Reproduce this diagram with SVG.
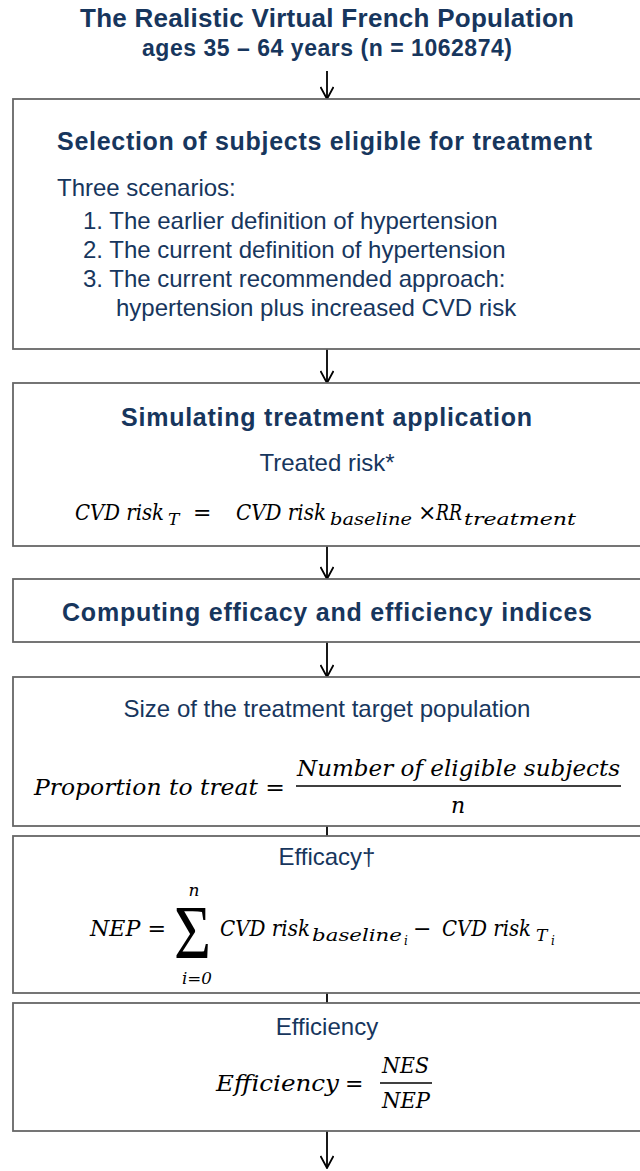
<svg xmlns="http://www.w3.org/2000/svg" width="640" height="1171" viewBox="0 0 640 1171">
<defs>
<style>
.box{fill:#fff;stroke:#666;stroke-width:1.8}
.h{font-family:"Liberation Sans",Arial,sans-serif;font-weight:bold;fill:#17365d}
.t{font-family:"Liberation Sans",Arial,sans-serif;fill:#17365d;font-size:24px}
.m{font-family:"DejaVu Serif","Liberation Serif",serif;font-style:italic;fill:#000;font-size:22px}
.s{font-size:17px}
.ss{font-size:12px}
.c{stroke:#000;stroke-width:1.8;fill:none}
</style>
<marker id="ah" viewBox="0 0 14 14" refX="13" refY="7" markerWidth="14" markerHeight="14" markerUnits="userSpaceOnUse" orient="auto">
<path d="M1,0.5 L13,7 L1,13.5" fill="none" stroke="#000" stroke-width="1.8"/>
</marker>
</defs>
<rect width="640" height="1171" fill="#fff"/>

<g id="title">
<text class="h" x="80" y="27" font-size="26" textLength="494">The Realistic Virtual French Population</text>
<text class="h" x="142" y="56" font-size="23" textLength="370">ages 35 – 64 years (n = 1062874)</text>
</g>

<g id="connectors">
<line class="c" x1="327" y1="71" x2="327" y2="99" marker-end="url(#ah)"/>
<line class="c" x1="327" y1="349" x2="327" y2="383" marker-end="url(#ah)"/>
<line class="c" x1="327" y1="546" x2="327" y2="579" marker-end="url(#ah)"/>
<line class="c" x1="327" y1="642" x2="327" y2="677" marker-end="url(#ah)"/>
<line class="c" x1="327" y1="826" x2="327" y2="836"/>
<line class="c" x1="327" y1="993" x2="327" y2="1003"/>
<line class="c" x1="327" y1="1131" x2="327" y2="1168" marker-end="url(#ah)"/>
</g>

<g id="selection">
<rect class="box" x="13" y="99" width="640" height="250"/>
<text class="h" x="57" y="150" font-size="25" textLength="535">Selection of subjects eligible for treatment</text>
<text class="t" x="57" y="196">Three scenarios:</text>
<text class="t" x="83" y="229">1. The earlier definition of hypertension</text>
<text class="t" x="83" y="258">2. The current definition of hypertension</text>
<text class="t" x="83" y="287">3. The current recommended approach:</text>
<text class="t" x="116" y="316">hypertension plus increased CVD risk</text>
</g>

<g id="simulating">
<rect class="box" x="13" y="383" width="640" height="163"/>
<text class="h" x="121" y="426" font-size="25" textLength="411">Simulating treatment application</text>
<text class="t" x="327" y="471" text-anchor="middle">Treated risk*</text>
<text class="m" y="520"><tspan x="75" textLength="89" lengthAdjust="spacingAndGlyphs">CVD risk</tspan><tspan class="s" x="168" dy="5">T</tspan><tspan x="193" dy="-5">=</tspan><tspan x="236" textLength="90" lengthAdjust="spacingAndGlyphs">CVD risk</tspan><tspan class="s" x="330" dy="5" textLength="82" lengthAdjust="spacingAndGlyphs">baseline</tspan><tspan x="418" dy="-5" font-style="normal">×</tspan><tspan x="436" textLength="26" lengthAdjust="spacingAndGlyphs">RR</tspan><tspan class="s" x="464" dy="5" textLength="112" lengthAdjust="spacingAndGlyphs">treatment</tspan></text>
</g>

<g id="computing">
<rect class="box" x="13" y="579" width="640" height="63"/>
<text class="h" x="62" y="621" font-size="25" textLength="530">Computing efficacy and efficiency indices</text>
</g>

<g id="size">
<rect class="box" x="13" y="677" width="640" height="149"/>
<text class="t" x="327" y="717" text-anchor="middle">Size of the treatment target population</text>
<text class="m" x="34" y="795" textLength="251" lengthAdjust="spacingAndGlyphs">Proportion to treat =</text>
<text class="m" x="297" y="776" textLength="323" lengthAdjust="spacingAndGlyphs">Number of eligible subjects</text>
<line x1="296" y1="786" x2="621" y2="786" stroke="#000" stroke-width="1.5"/>
<text class="m" x="458" y="813" text-anchor="middle">n</text>
</g>

<g id="efficacy">
<rect class="box" x="13" y="836" width="640" height="157"/>
<text class="t" x="327" y="865" text-anchor="middle">Efficacy†</text>
<text class="m" x="90" y="936" textLength="76" lengthAdjust="spacingAndGlyphs">NEP =</text>
<text x="174" y="958" font-family="Liberation Serif, serif" font-size="76" textLength="37" lengthAdjust="spacingAndGlyphs">Σ</text>
<text class="m s" x="194" y="896" text-anchor="middle">n</text>
<text class="m s" x="182" y="984" textLength="30" lengthAdjust="spacingAndGlyphs">i=0</text>
<text class="m" y="936"><tspan x="220" textLength="90" lengthAdjust="spacingAndGlyphs">CVD risk</tspan><tspan class="s" x="312" dy="5" textLength="90" lengthAdjust="spacingAndGlyphs">baseline</tspan><tspan class="ss" x="404" dy="4">i</tspan><tspan x="413" dy="-9" font-style="normal">−</tspan><tspan x="442" textLength="89" lengthAdjust="spacingAndGlyphs">CVD risk</tspan><tspan class="s" x="536" dy="5">T</tspan><tspan class="ss" x="551" dy="4">i</tspan></text>
</g>

<g id="efficiency">
<rect class="box" x="13" y="1003" width="640" height="128"/>
<text class="t" x="327" y="1035" text-anchor="middle">Efficiency</text>
<text class="m" x="216" y="1091" textLength="123" lengthAdjust="spacingAndGlyphs">Efficiency</text>
<text class="m" x="345" y="1091" font-style="normal">=</text>
<text class="m" x="382" y="1073" textLength="47" lengthAdjust="spacingAndGlyphs">NES</text>
<line x1="380" y1="1083" x2="432" y2="1083" stroke="#000" stroke-width="1.5"/>
<text class="m" x="382" y="1108" textLength="48" lengthAdjust="spacingAndGlyphs">NEP</text>
</g>
</svg>
